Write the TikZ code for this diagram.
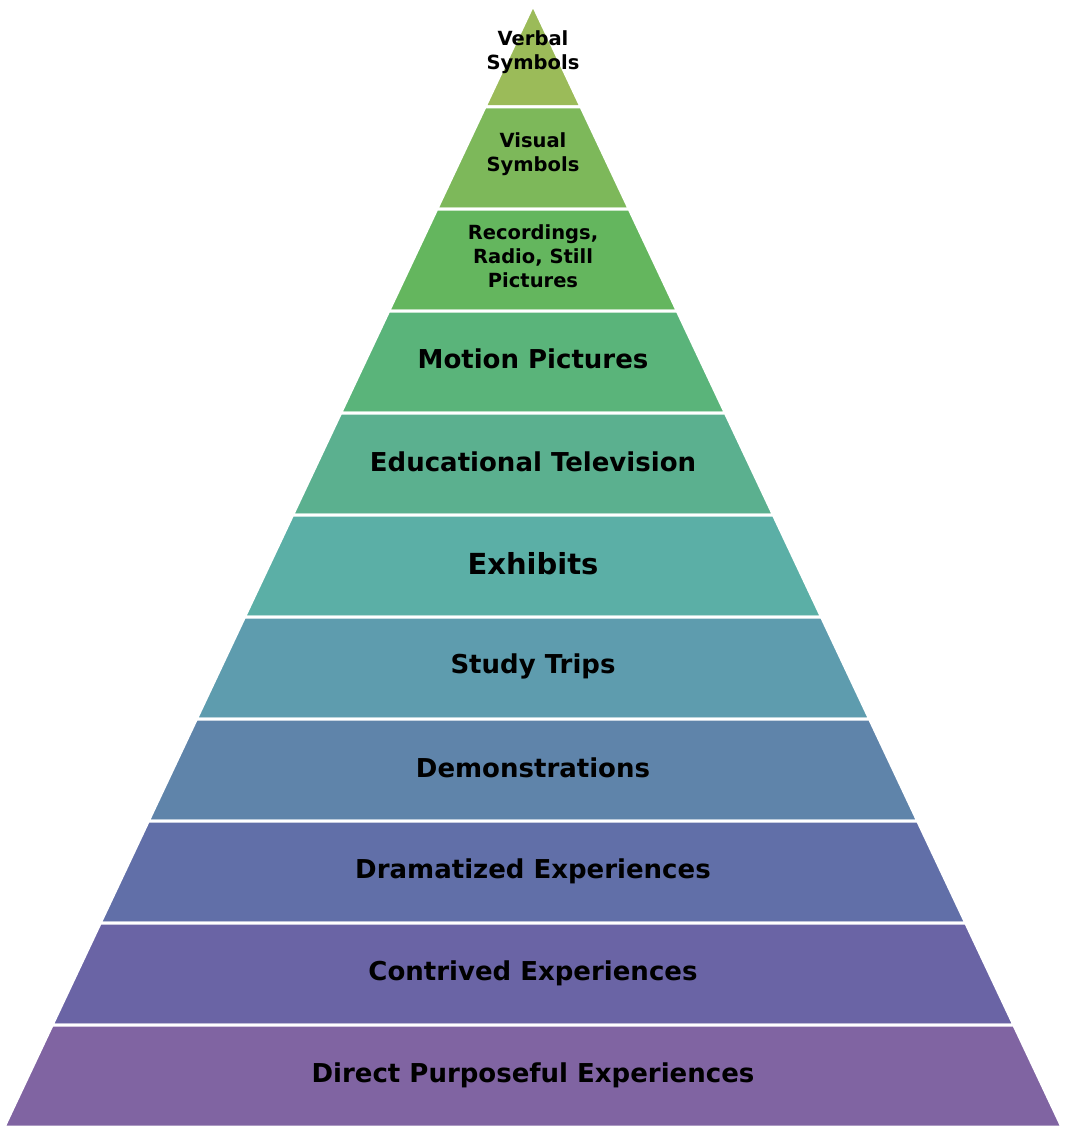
\documentclass[tikz,border=0pt]{standalone}
\usepackage{fontspec}
\setmainfont{DejaVu Sans}
\definecolor{c1}{HTML}{9BBB59}
\definecolor{c2}{HTML}{7DB85A}
\definecolor{c3}{HTML}{64B65E}
\definecolor{c4}{HTML}{5AB47A}
\definecolor{c5}{HTML}{5BB08F}
\definecolor{c6}{HTML}{5BAFA6}
\definecolor{c7}{HTML}{5E9CAE}
\definecolor{c8}{HTML}{5F84AA}
\definecolor{c9}{HTML}{616FA8}
\definecolor{c10}{HTML}{6A64A5}
\definecolor{c11}{HTML}{8064A2}
\begin{document}
\begin{tikzpicture}[x=1pt, y=-1pt,
    band/.style={draw=white, line width=3pt, line join=miter},
    lbl/.style={font=\bfseries\fontsize{26}{28}\selectfont, align=center, text=black},
    small/.style={font=\bfseries\fontsize{19.5}{24}\selectfont}]
    %--------------------%
    % Parameters
    %--------------------%
    \def\apexx{533}
    \def\apexy{5}
    \def\bandh{102}
    \def\slope{0.4714}
    \useasboundingbox (0,0) rectangle (1066,1129);

    %--------------------%
    % Bands
    %--------------------%
    \foreach \i/\col in {1/c1,2/c2,3/c3,4/c4,5/c5,6/c6,7/c7,8/c8,9/c9,10/c10,11/c11} {
        \pgfmathsetmacro{\ytop}{\apexy+(\i-1)*\bandh}
        \pgfmathsetmacro{\ybot}{\apexy+\i*\bandh}
        \pgfmathsetmacro{\wtop}{(\ytop-\apexy)*\slope}
        \pgfmathsetmacro{\wbot}{(\ybot-\apexy)*\slope}
        \fill[\col] (\apexx-\wtop,\ytop) -- (\apexx+\wtop,\ytop) -- (\apexx+\wbot,\ybot) -- (\apexx-\wbot,\ybot) -- cycle;
        \draw[band] (\apexx-\wtop,\ytop) -- (\apexx+\wtop,\ytop) -- (\apexx+\wbot,\ybot) -- (\apexx-\wbot,\ybot) -- cycle;
    }

    %--------------------%
    % Labels
    %--------------------%
    \node[lbl, small] (verbal) at (533,52) {Verbal\\Symbols};
    \node[lbl, small] (visual) at (533,154) {Visual\\Symbols};
    \node[lbl, small] (record) at (533,256) {Recordings,\\Radio, Still\\Pictures};
    \node[lbl] (motion) at (533,359) {Motion Pictures};
    \node[lbl] (edutv) at (533,462) {Educational Television};
    \node[lbl, font=\bfseries\fontsize{29}{32}\selectfont] (exhibits) at (533,564) {Exhibits};
    \node[lbl] (trips) at (533,666) {Study Trips};
    \node[lbl] (demo) at (533,768) {Demonstrations};
    \node[lbl] (drama) at (533,871) {Dramatized Experiences};
    \node[lbl] (contrived) at (533,973) {Contrived Experiences};
    \node[lbl] (direct) at (533,1075) {Direct Purposeful Experiences};
\end{tikzpicture}
\end{document}
